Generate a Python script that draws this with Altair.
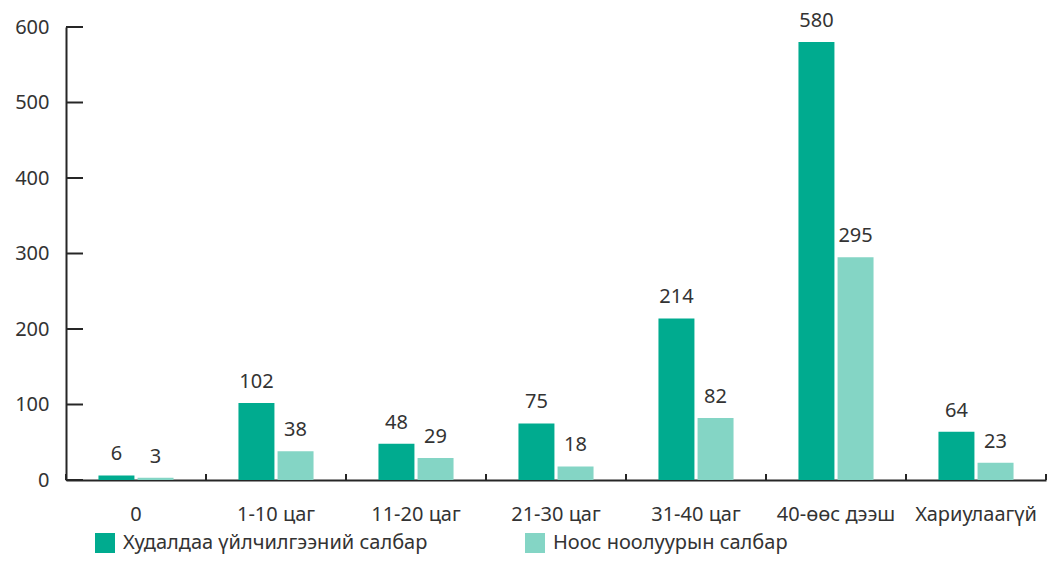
import altair as alt
import pandas as pd

categories = ["0", "1-10 цаг", "11-20 цаг", "21-30 цаг", "31-40 цаг", "40-өөс дээш", "Хариулаагүй"]
series_names = ["Худалдаа үйлчилгээний салбар", "Ноос ноолуурын салбар"]
trade_values = [6, 102, 48, 75, 214, 580, 64]
wool_values = [3, 38, 29, 18, 82, 295, 23]
y_ticks = [0, 100, 200, 300, 400, 500, 600]
colors = ["#00AB8F", "#84D5C5"]

rows = []
for c, a, b in zip(categories, trade_values, wool_values):
    rows.append({"cat": c, "series": series_names[0], "value": a})
    rows.append({"cat": c, "series": series_names[1], "value": b})
df = pd.DataFrame(rows)
df_cat = pd.DataFrame({"cat": categories})
df_last = pd.DataFrame({"cat": categories[-1:]})
df_yt = pd.DataFrame({"value": y_ticks})

FONT = "Noto Sans"
FS = 20
INK = "#333333"
LINE = "#262626"

xscale = alt.Scale(domain=categories, paddingInner=0, paddingOuter=0)
x = alt.X("cat:N", sort=categories, title=None, scale=xscale,
          axis=alt.Axis(labelAngle=0, labelFontSize=FS, labelColor=INK, labelFont=FONT,
                        ticks=False, domainColor=LINE, domainWidth=2, labelPadding=24))
xo = alt.XOffset("series:N", sort=series_names,
                 scale=alt.Scale(paddingInner=0.08, paddingOuter=0.83))
yscale = alt.Scale(domain=[0, 600], nice=False)
y = alt.Y("value:Q", title=None, scale=yscale,
          axis=alt.Axis(values=y_ticks, grid=False, labelFontSize=FS, labelColor=INK,
                        labelFont=FONT, ticks=False, domainColor=LINE, domainWidth=2,
                        labelPadding=17))

bars = alt.Chart(df).mark_bar().encode(
    x=x, xOffset=xo, y=y,
    color=alt.Color("series:N", sort=series_names, title=None,
                    scale=alt.Scale(domain=series_names, range=colors),
                    legend=alt.Legend(orient="none", legendX=29, legendY=506, direction="horizontal",
                                      symbolType="square", symbolSize=400, symbolStrokeWidth=0,
                                      labelFontSize=FS, labelFont=FONT, labelColor=INK,
                                      labelLimit=500, columnPadding=97, labelOffset=8)),
)
labels = alt.Chart(df).mark_text(dy=-21, fontSize=FS, font=FONT, color=INK).encode(
    x=x, xOffset=xo, y=y, text="value:Q"
)
xticks = alt.Chart(df_cat).mark_tick(color=LINE, thickness=2, size=12, opacity=1).encode(
    x=alt.X("cat:N", sort=categories, bandPosition=0, scale=xscale, title=None),
    y=alt.value(447),
)
xtick_end = alt.Chart(df_last).mark_tick(color=LINE, thickness=2, size=12, opacity=1).encode(
    x=alt.X("cat:N", sort=categories, bandPosition=1, scale=xscale, title=None),
    y=alt.value(447),
)
yticks = alt.Chart(df_yt).mark_tick(color=LINE, thickness=2, size=17, opacity=1).encode(
    y=alt.Y("value:Q", scale=yscale, title=None),
    x=alt.value(8.5),
)

chart = alt.layer(bars, labels, xticks, xtick_end, yticks).properties(
    width=980, height=453,
    padding={"left": 58, "top": 19, "right": 10, "bottom": 95},
    autosize=alt.AutoSizeParams(type="none"),
).configure_view(stroke=None)

chart.save("out.html", embed_options={"renderer": "svg", "actions": False})
